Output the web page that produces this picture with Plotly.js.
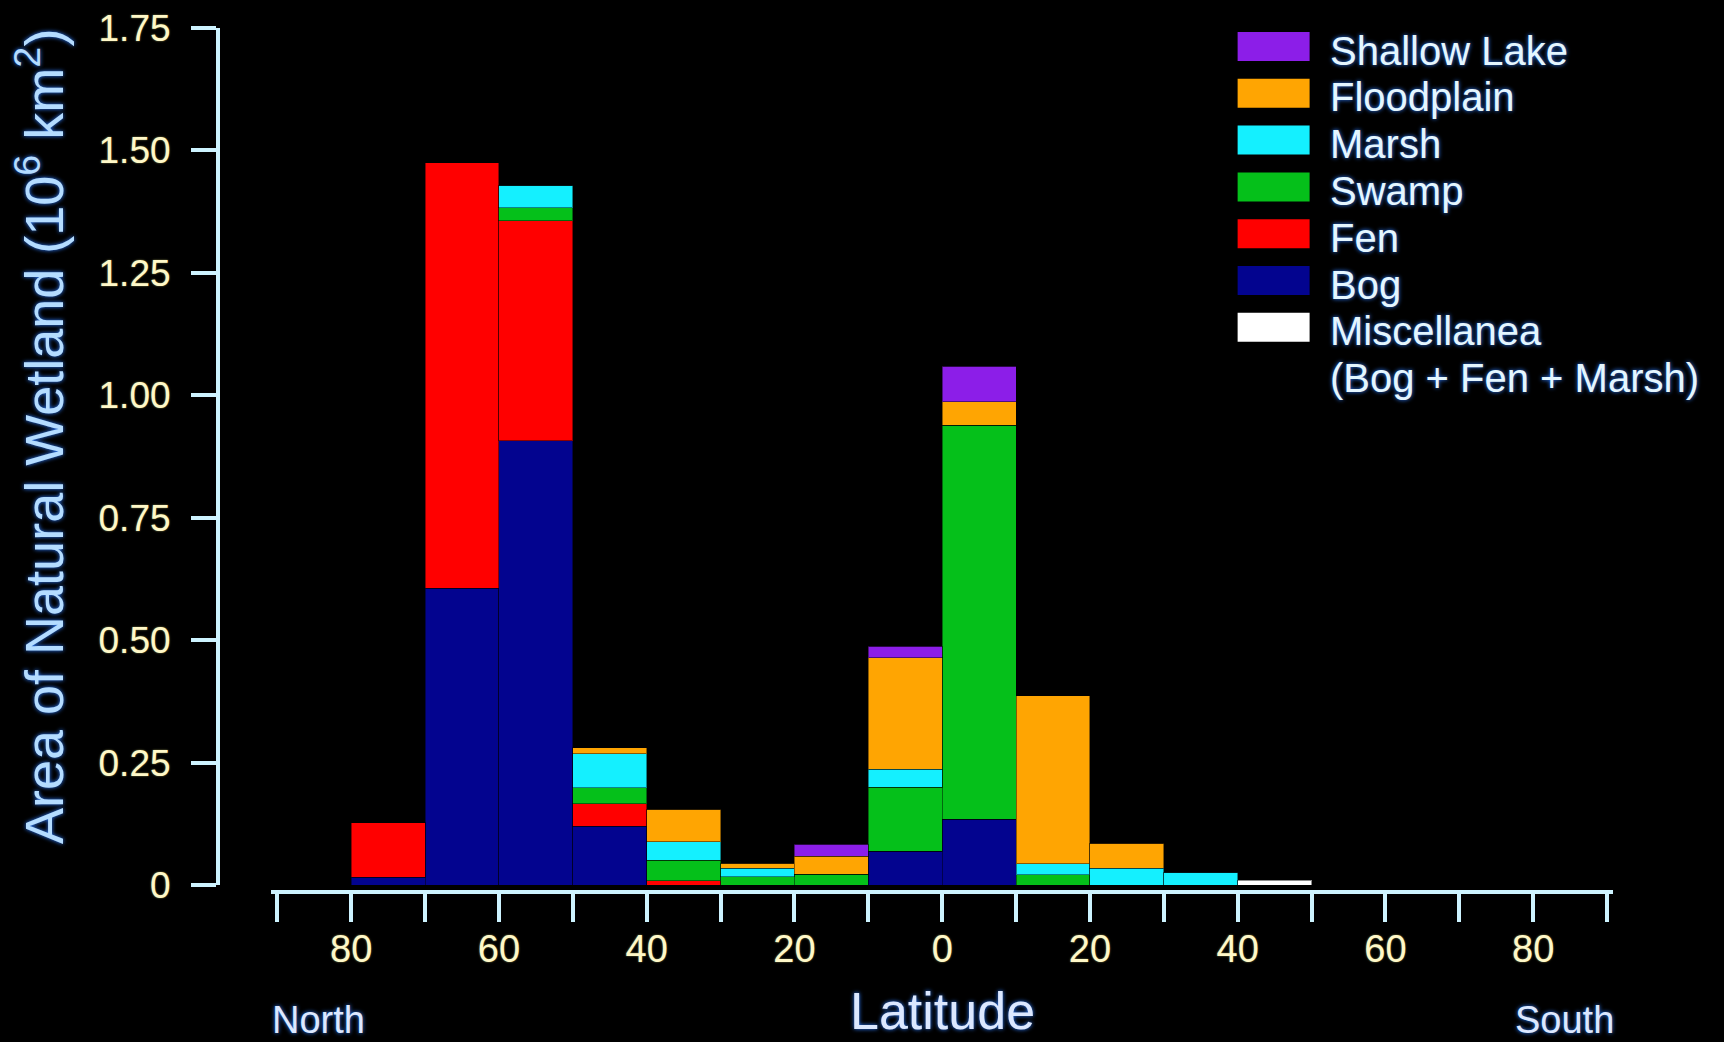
<!DOCTYPE html>
<html><head><meta charset="utf-8">
<script src="https://cdn.plot.ly/plotly-3.0.1.min.js"></script>
<style>html,body{margin:0;padding:0;background:#000;} #chart{width:1724px;height:1042px;}</style>
</head><body><div id="chart"></div>
<script>
// Latitude bin centres (degrees, North positive, South negative), 10-degree bins
const binCenters  = [75, 65, 55, 45, 35, 25, 15, 5, -5, -15, -25, -35, -45];
// Area of natural wetland (10^6 km^2) per bin
const bog         = [0.016, 0.606, 0.907, 0.120, 0,     0,     0,     0.069, 0.134, 0,     0,     0,     0];
const fen         = [0.111, 0.869, 0.449, 0.046, 0.009, 0,     0,     0,     0,     0,     0,     0,     0];
const swamp       = [0,     0,     0.027, 0.033, 0.042, 0.017, 0.022, 0.131, 0.805, 0.021, 0,     0,     0];
const marsh       = [0,     0,     0.046, 0.069, 0.037, 0.017, 0,     0.036, 0,     0.022, 0.034, 0.026, 0];
const floodplain  = [0,     0,     0,     0.012, 0.067, 0.010, 0.037, 0.228, 0.048, 0.343, 0.051, 0,     0];
const shallowLake = [0,     0,     0,     0,     0,     0,     0.024, 0.024, 0.072, 0,     0,     0,     0];
const miscellanea = [0,     0,     0,     0,     0,     0,     0,     0,     0,     0,     0,     0,     0.010];

const seriesNames  = ['Shallow Lake', 'Floodplain', 'Marsh', 'Swamp', 'Fen', 'Bog', 'Miscellanea'];
const miscSubLabel = '(Bog + Fen + Marsh)';
const xTitle = 'Latitude';
const yTitle = 'Area of Natural Wetland (10<sup>6</sup> km<sup>2</sup>)';

// labelled ticks every 20 degrees, unlabelled minor ticks every 10 degrees
const xTickVals  = [80, 60, 40, 20, 0, -20, -40, -60, -80];
const xTickText  = ['80', '60', '40', '20', '0', '20', '40', '60', '80'];
const xMinorVals = [90, 70, 50, 30, 10, -10, -30, -50, -70, -90];
const yTickVals = [0, 0.25, 0.5, 0.75, 1.0, 1.25, 1.5, 1.75];
const yTickText = ['0', '0.25', '0.50', '0.75', '1.00', '1.25', '1.50', '1.75'];

const colors = {
  'Shallow Lake': '#8c1ee8',
  'Floodplain':   '#ffa502',
  'Marsh':        '#14f0ff',
  'Swamp':        '#05c01a',
  'Fen':          '#ff0000',
  'Bog':          '#03048f',
  'Miscellanea':  '#ffffff'
};
const valuesByName = {
  'Bog': bog, 'Fen': fen, 'Swamp': swamp, 'Marsh': marsh,
  'Floodplain': floodplain, 'Shallow Lake': shallowLake, 'Miscellanea': miscellanea
};
const stackOrder = ['Bog', 'Fen', 'Swamp', 'Marsh', 'Floodplain', 'Shallow Lake', 'Miscellanea'];

const traces = stackOrder.map(name => ({
  type: 'bar',
  name: name,
  x: binCenters,
  y: valuesByName[name],
  width: 10,
  marker: { color: colors[name], line: { width: 1, color: 'rgba(0,0,0,0.45)' } },
  hoverinfo: 'name+y'
}));

// page geometry
const W = 1724, H = 1042;
const L = 100, R = 1613.5, T = 20, B = 900;
const pw = R - L, ph = B - T;
const fx = px => (px - L) / pw;
const fy = py => (B - py) / ph;

const axisColor = '#cdf3ff';
const tickColor = '#fff8c8';
const titleColor = '#dce8ff';
const yTitleColor = '#b4dcff';
const glow = '0px 0px 4px #2f7dff';
const tickGlow = '0px 0px 2px #8c8c50';
const FONT = '"Liberation Sans", Arial, Helvetica, sans-serif';

const shapes = [];
const annotations = [];
const legendTop = 32, legendStep = 46.8, boxH = 29;
seriesNames.forEach((name, i) => {
  const top = legendTop + i * legendStep;
  shapes.push({
    type: 'rect', xref: 'paper', yref: 'paper',
    x0: fx(1238), x1: fx(1310), y0: fy(top + boxH), y1: fy(top),
    fillcolor: colors[name], line: { width: 0 }
  });
  annotations.push({
    xref: 'paper', yref: 'paper', x: fx(1328), y: fy(top + boxH / 2 + 4),
    xanchor: 'left', yanchor: 'middle', showarrow: false, text: name,
    font: { family: FONT, size: 40, color: '#e4f6ff', shadow: glow }
  });
});
annotations.push({
  xref: 'paper', yref: 'paper', x: fx(1328), y: fy(legendTop + 7 * legendStep + boxH / 2 + 4),
  xanchor: 'left', yanchor: 'middle', showarrow: false, text: miscSubLabel,
  font: { family: FONT, size: 40, color: '#e4f6ff', shadow: glow }
});
annotations.push({
  xref: 'paper', yref: 'paper', x: fx(270), y: fy(1020), xanchor: 'left', yanchor: 'middle',
  showarrow: false, text: 'North', font: { family: FONT, size: 38, color: titleColor, shadow: glow }
});
annotations.push({
  xref: 'paper', yref: 'paper', x: fx(1617), y: fy(1020), xanchor: 'right', yanchor: 'middle',
  showarrow: false, text: 'South', font: { family: FONT, size: 38, color: titleColor, shadow: glow }
});
// axis titles
annotations.push({
  xref: 'paper', yref: 'paper', x: fx(942.5), y: fy(1011), xanchor: 'center', yanchor: 'middle',
  showarrow: false, text: xTitle, font: { family: FONT, size: 52, color: titleColor, shadow: glow }
});
annotations.push({
  xref: 'paper', yref: 'paper', x: fx(40), y: fy(437), xanchor: 'center', yanchor: 'middle',
  textangle: -90, showarrow: false, text: yTitle,
  font: { family: FONT, size: 54, color: yTitleColor, shadow: glow }
});

const layout = {
  width: W, height: H,
  paper_bgcolor: '#000000', plot_bgcolor: 'rgba(0,0,0,0)',
  margin: { l: L, r: W - R, t: T, b: H - B, pad: 0 },
  barmode: 'stack', bargap: 0, showlegend: false,
  font: { family: FONT, color: tickColor },
  xaxis: {
    domain: [fx(271.5), 1], range: [90.8, -90.8], anchor: 'free', position: fy(892),
    showline: true, linecolor: axisColor, linewidth: 4,
    ticks: 'outside', ticklen: 28, tickwidth: 4, tickcolor: axisColor,
    tickmode: 'array', tickvals: xTickVals, ticktext: xTickText, ticklabelstandoff: -6,
    minor: { tickmode: 'array', tickvals: xMinorVals, ticks: 'outside', ticklen: 28, tickwidth: 4, tickcolor: axisColor, showgrid: false },
    tickfont: { family: FONT, size: 38, color: tickColor, shadow: tickGlow },
    showgrid: false, zeroline: false, fixedrange: true, automargin: false
  },
  yaxis: {
    domain: [fy(885), fy(28)], range: [0, 1.75], anchor: 'free', position: fx(218), side: 'left',
    showline: true, linecolor: axisColor, linewidth: 4,
    ticks: 'outside', ticklen: 25, tickwidth: 4, tickcolor: axisColor,
    tickmode: 'array', tickvals: yTickVals, ticktext: yTickText, ticklabelstandoff: 13,
    tickfont: { family: FONT, size: 37, color: tickColor, shadow: tickGlow },
    showgrid: false, zeroline: false, fixedrange: true, automargin: false
  },
  shapes: shapes,
  annotations: annotations
};

Plotly.newPlot('chart', traces, layout, { staticPlot: true, displayModeBar: false }).then(gd => {
  // drop Plotly's empty placeholder text nodes (e.g. the unused chart title)
  gd.querySelectorAll('text').forEach(t => { if (!t.textContent.trim()) t.remove(); });
});
</script>
</body></html>
